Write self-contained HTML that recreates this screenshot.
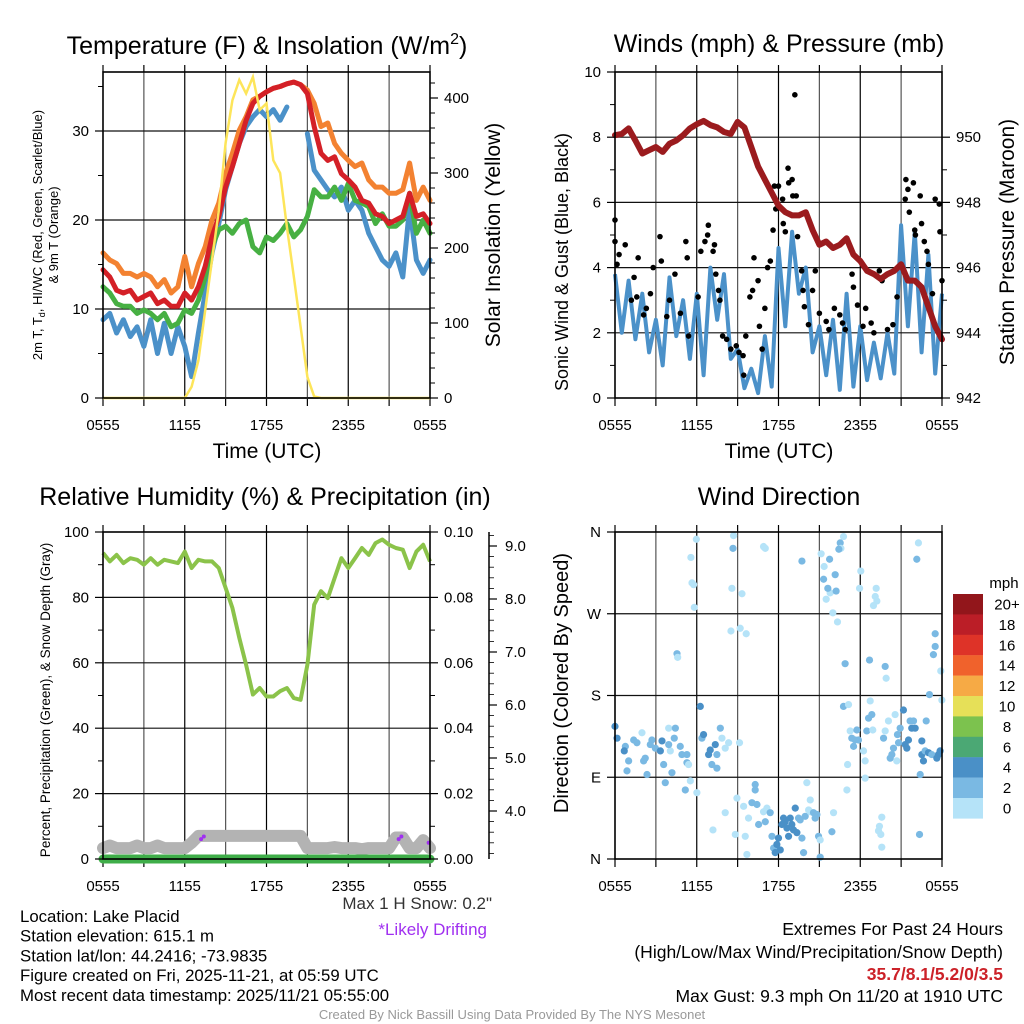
<!DOCTYPE html>
<html><head><meta charset="utf-8"><style>
html,body{margin:0;padding:0;background:#fff;}
svg{display:block;font-family:"Liberation Sans",sans-serif;}
</style></head><body>
<svg id="chart" width="1024" height="1024" viewBox="0 0 1024 1024" xmlns="http://www.w3.org/2000/svg">
<rect width="1024" height="1024" fill="#fff"/>
</svg>
<script>
// ---------- DATA ----------
const hoursHalf = [0,0.5,1,1.5,2,2.5,3,3.5,4,4.5,5,5.5,6,6.5,7,7.5,8,8.5,9,9.5,10,10.5,11,11.5,12,12.5,13,13.5,14,14.5,15,15.5,16,16.5,17,17.5,18,18.5,19,19.5,20,20.5,21,21.5,22,22.5,23,23.5,24];
const xTickLabels = ["0555","1155","1755","2355","0555"];
const temp9m = [16.3,15.5,15.1,14,14,13.6,14,13.6,12.5,13.3,11.8,12.5,15.9,12.5,15.1,17,20,21.9,25.2,27.5,30.1,31.6,33.5,33.9,34.4,34.8,35,35.3,35.5,35.2,34.6,33.1,30.5,30.9,28.6,27.5,26.7,26,26.4,24.5,23.7,23.7,23,23,23.4,26.4,22.2,23.7,22.2];
const temp2m = [14.4,13.6,12.1,11.8,12.1,11,11.4,11.8,10.6,11,10.3,10.3,11.8,11,12.5,14.8,18.1,20.4,23.7,26,28.6,31.2,33.1,33.9,34.4,34.8,35,35.3,35.5,35.2,34.2,30.5,27.5,26.7,27.1,25.2,24.5,23.7,22.2,21.9,20.7,20.4,19.6,20,20.4,23,20.4,20.7,19.6];
const dewpoint = [12.5,11.8,10.6,10.3,10.3,9.5,9.9,9.5,8.8,9.5,8,8.4,9.9,9.5,11,13.6,17,18.9,19.3,18.5,19.6,20,17,16.3,18.1,17.7,18.5,19.6,18.1,18.9,20.4,23.4,22.6,22.6,23.7,22.2,24.1,22.2,21.9,21.5,19.6,20.7,19.3,19.3,20,23,18.5,20,18.5];
const windChill = [8.8,9.5,7.3,8.8,6.9,8,5.8,8.8,5,8.4,5,8,5.8,2.4,7.3,11.8,16.3,19.6,23.4,26,28.6,30.5,31.6,32.4,31.6,32.4,31.2,32.7,null,null,29.7,25.6,24.5,23.4,22.6,23.7,21.1,22.2,21.1,18.5,17,15.5,14.8,16.3,13.6,21.5,15.5,14,15.5];
const solar = [0,0,0,0,0,0,0,0,0,0,0,0,0,15,50,117,184,250,340,397,424,406,428,384,393,317,300,228,162,95,28,2,0,0,0,0,0,0,0,0,0,0,0,0,0,0,0,0,0];
const pressure = [950.06,950.1,950.27,949.9,949.5,949.6,949.7,949.55,949.8,949.9,950.06,950.27,950.4,950.5,950.37,950.3,950.16,950.1,950.47,950.3,949.7,949.1,948.7,948.3,947.9,947.7,947.6,947.6,947.7,947.15,946.7,946.8,946.6,946.7,946.9,946.4,946.2,945.9,945.8,945.65,945.8,945.9,946.1,945.6,945.6,945.4,944.8,944.2,943.8];
const windSpeed = [3.8,2,3.6,1.8,3.2,1.4,2.4,1,3.7,1.9,3,1.2,3.2,0.7,4,2.4,3.8,1.2,1.5,0.3,0.9,0.15,1.9,0.35,4.6,2.2,5.1,3.2,4,1.4,2.2,0.7,2.4,0.25,3.2,0.35,2.2,0.55,1.7,0.6,2,0.75,5.3,2.2,5.1,1.4,4.4,0.75,3.2];
const gustHours = [0,0,0.3,0.15,0.75,1.7,1.4,1.6,1.2,2.3,2.1,2.6,2.8,3.3,3.4,4,3.8,4.4,4.8,5.2,5.3,5.4,6.1,6.3,6.6,6.8,6.85,7.2,7.3,7.4,7.6,7.7,7.9,8.2,8.5,8.9,9.1,9.4,9.45,9.6,9.9,10.1,10.2,10.5,10.6,10.8,11,11.2,11.4,11.6,11.7,11.8,12,12.3,12.35,12.5,12.7,12.75,13,13.05,13.2,13.3,13.4,13.7,13.8,13.9,14.2,14.5,14.7,15,15.5,15.7,16.1,16.5,16.7,16.9,17.4,17.5,17.8,18.2,18.4,18.8,19,19.4,19.6,20,20.4,20.7,21.3,21.35,21.5,21.6,21.9,22,22.05,22.4,22.5,22.7,22.9,23,23.5,23.8,23.85,23.3,24];
const gustSpeed = [5.46,4.8,4.4,4.1,4.7,4.3,3.7,3.1,3,2.75,2.55,3.2,4,4.95,4.2,3,2.5,3.8,2.6,4.8,4.3,1.9,3.1,4.5,4.8,5,5.3,4.5,4.7,3.8,3.3,3,1.9,1.8,1.5,1.6,1.4,1.3,0.7,1.9,3.1,3.3,4.3,3.6,2.2,1.5,2.75,4,4.2,5.15,6.5,5.8,6.5,6.1,5.35,5.1,7.05,6.6,6.7,6.2,9.3,6.2,4.95,3.9,3.3,2.8,2.25,3.3,3.9,2.6,2.35,2.1,2.75,2.55,2.3,2.1,3.8,3.4,2.85,2.2,2.75,2.3,2,3.9,3.6,2.1,2.25,3.1,6.1,6.7,6.4,5.7,6.6,5.15,5,6.2,5.35,4.8,4.5,4.1,6.1,5.95,5.1,3.2,3.6];
const rh = [93.6,91,93,90.5,92,91.5,90,92,90,91.5,91,90.5,94,89,91.5,91,91,89,82.9,76.8,67.6,59.4,50.3,52.3,49.7,49.7,51.3,52.3,49.2,48.7,59.4,77.8,81.9,79.8,85.9,92,89,92,95.1,93,96.6,97.7,96.1,95.1,94.6,89,94,96.1,91];
const snowDepth = [3.3,3.35,3.3,3.3,3.3,3.35,3.3,3.3,3.35,3.3,3.3,3.3,3.3,3.4,3.53,3.53,3.53,3.53,3.53,3.53,3.53,3.53,3.53,3.53,3.53,3.53,3.53,3.53,3.53,3.53,3.3,3.3,3.3,3.3,3.32,3.3,3.3,3.3,3.28,3.3,3.3,3.3,3.3,3.5,3.5,3.3,3.3,3.45,3.3];
const precip = [0,0,0,0,0,0,0,0,0,0,0,0,0,0,0,0,0,0,0,0,0,0,0,0,0,0,0,0,0,0,0,0,0,0,0,0,0,0,0,0,0,0,0,0,0,0,0,0,0];
const driftHours = [7.2,7.4,21.7,21.9,23.9];
const driftDepth = [3.47,3.52,3.47,3.52,3.4];
const dirHours = [0,0.15,0.76,0.68,1.0,0.88,1.37,1.61,1.98,2.1,2.22,2.35,2.59,2.71,2.96,3.33,3.45,3.57,3.69,3.94,4.06,3.94,4.18,4.43,4.35,4.79,4.91,5.16,5.28,5.28,5.4,5.53,6.01,6.26,6.38,6.5,6.87,6.99,7.11,7.36,7.48,7.48,7.73,7.85,8.09,8.34,9.14,8.95,8.83,9.44,9.56,9.68,9.8,10.05,10.29,10.29,10.42,10.54,10.9,11.03,11.15,11.39,11.52,11.64,11.76,11.88,12.0,12.13,12.25,12.37,12.49,12.62,12.74,12.86,12.98,13.1,13.23,13.35,13.47,13.59,13.72,13.84,13.96,14.08,14.21,14.33,14.33,14.57,14.69,14.82,14.94,15.06,15.06,15.92,16.04,17.02,17.07,16.77,17.14,17.26,17.38,17.51,17.63,17.75,17.87,18.24,18.36,18.36,18.48,18.61,18.73,18.85,18.92,19.71,19.83,20.07,20.2,20.32,20.44,20.56,20.68,20.73,20.81,20.93,21.17,21.3,21.42,21.54,21.66,21.78,21.91,22.03,22.4,22.52,22.52,22.64,22.76,22.84,23.01,23.25,23.62,23.74,23.86,23.08,23.91,23.99,23.37,23.5,23.5,22.15,22.27,19.83,19.9,18.68,16.89,16.33,15.99,15.5,15.79,15.62,15.31,16.16,15.75,15.35,15.13,13.72,16.53,16.58,16.43,16.77,18.04,17.95,19.17,19.1,19.22,18.97,16.23,10.9,11.03,8.7,8.66,8.58,9.32,8.51,9.19,9.63,5.97,5.57,5.65,5.77,5.82,4.55,4.6,7.19,8.09,19.58,19.41,19.34,19.51,19.58,22.35];
const dirDeg = [146,133,124,119,108,97,131,128,139,108,111,93,126,131,122,119,130,104,84,144,119,126,95,144,133,124,115,76,115,106,104,86,73,168,133,137,115,120,104,126,100,115,144,133,122,128,128,67,27,58,25,5,45,62,82,76,60,38,52,41,56,51,25,12,7,16,23,10,38,45,41,34,25,45,38,32,56,29,45,43,23,7,47,84,54,65,52,51,45,49,25,21,2,30,51,76,104,168,170,141,133,124,131,142,131,119,108,89,141,155,174,159,142,133,141,152,111,115,122,159,108,137,128,144,164,126,122,131,152,144,152,144,93,130,115,108,119,152,117,115,111,115,119,181,207,175,225,234,248,330,348,212,199,219,215,261,271,286,293,298,308,313,330,322,336,328,348,342,341,355,317,298,298,289,284,279,295,344,342,356,342,298,292,251,254,248,352,332,304,302,277,226,222,32,51,46,36,31,27,13,27];
const dirSpeed = [5,5,3,5,3,3,3,3,1,3,3,3,3,3,3,5,5,3,3,1,1,3,3,3,3,3,3,3,3,3,1,1,1,5,3,5,5,5,3,5,3,3,3,1,1,1,1,1,1,1,1,1,1,3,3,3,3,3,1,3,1,3,3,3,5,5,5,5,5,5,5,5,5,5,5,5,5,5,3,3,3,3,3,1,1,1,1,3,3,3,3,1,3,3,1,1,1,3,1,1,3,3,3,3,3,1,1,1,3,3,1,3,1,3,1,1,3,3,3,1,1,3,3,3,5,5,5,5,3,5,3,5,3,5,5,5,3,3,5,3,5,5,5,3,1,1,3,3,3,3,1,3,1,3,3,1,1,1,1,3,3,3,3,1,1,3,3,1,3,1,1,1,1,1,1,1,3,1,1,1,3,1,1,1,1,1,1,1,1,1,1,3,1,1,1,1,1,1,1,1,3,1,3,1,1,3,3,3];
const speedBins = ["20+","18","16","14","12","10","8","6","4","2","0"];
const speedColors = ["#92161b","#bb1e27","#de3328","#f0622c","#f6aa45","#e6e058","#7cc24e","#4ba874","#4a90c7","#7ab9e3","#b5e3f8"];

// ---------- HELPERS ----------
const svg = document.getElementById('chart');
const NS = 'http://www.w3.org/2000/svg';
function mk(tag, attrs, parent){ const e=document.createElementNS(NS,tag); for(const k in attrs) e.setAttribute(k,attrs[k]); (parent||svg).appendChild(e); return e; }
function txt(s, x, y, size, opts, parent){ opts=opts||{}; const e=mk('text',{x:x,y:y,'font-size':size,fill:opts.fill||'#000','text-anchor':opts.anchor||'middle'},parent); if(opts.weight) e.setAttribute('font-weight',opts.weight); if(opts.rot) e.setAttribute('transform','rotate(-90 '+x+' '+y+')'); e.textContent=s; return e; }
function pathFrom(xs, ys, fx, fy){ let d='', pen=false; for(let i=0;i<xs.length;i++){ if(ys[i]===null){pen=false;continue;} d+=(pen?'L':'M')+fx(xs[i]).toFixed(1)+' '+fy(ys[i]).toFixed(1); pen=true;} return d; }

function panelFrame(g, x0, x1, y0, y1, hLines){
  for(let h=3; h<24; h+=3){ const x = x0+(x1-x0)*h/24; const l=mk('line',{x1:x,y1:y0,x2:x,y2:y1,stroke:(h%6===0?'#000':'#555'),'stroke-width':1.2},g);   }
  hLines.forEach(y=>{ const l=mk('line',{x1:x0,y1:y,x2:x1,y2:y,stroke:'#111','stroke-width':1.2},g);   });
  for(let h=0; h<=24; h+=3){ const x=x0+(x1-x0)*h/24; mk('line',{x1:x,y1:y1,x2:x,y2:y1+8,stroke:'#000','stroke-width':1.2},g); mk('line',{x1:x,y1:y0,x2:x,y2:y0-7,stroke:'#000','stroke-width':1.2},g); }
  xTickLabels.forEach((s,i)=>{ const t=txt(s, x0+(x1-x0)*i/4, y1+32, 15, {}, g);   });
}
function border(g,x0,x1,y0,y1){ const r=mk('rect',{x:x0,y:y0,width:x1-x0,height:y1-y0,fill:'none',stroke:'#000','stroke-width':1.6},g);   }
function yTicks(g, x, vals, fy, labels, dir, minor){
  vals.forEach((v,i)=>{ const y=fy(v); mk('line',{x1:x,y1:y,x2:x+dir*8,y2:y,stroke:'#000','stroke-width':1.2},g); if(labels){ const t=txt(labels[i], x+dir*14, y+5, 15, {anchor: dir<0?'end':'start'}, g);   } });
  (minor||[]).forEach(v=>{ const y=fy(v); mk('line',{x1:x,y1:y,x2:x+dir*5,y2:y,stroke:'#000','stroke-width':1},g); });
}

// ---------- PANEL 1: Temperature ----------
(function(){
  const g=mk('g',{});  
  const x0=103,x1=430,y0=72,y1=398;
  const fx=h=>x0+(x1-x0)*h/24, fy=v=>398-v*8.9, fyR=w=>398-w*0.75;
  panelFrame(g,x0,x1,y0,y1,[fy(10),fy(20),fy(30)]);
  mk('line',{x1:x0,y1:fy(0),x2:x1,y2:fy(0),stroke:'#999','stroke-width':2},g);
  const series=[[windChill,'#4b91c9','wind-chill-line'],[dewpoint,'#47b043','dewpoint-line'],[temp9m,'#f38231','temp-9m-line'],[temp2m,'#d42027','temp-2m-line']];
  series.forEach(s=>{ const p=mk('path',{d:pathFrom(hoursHalf,s[0],fx,fy),fill:'none',stroke:s[1],'stroke-width':5,'stroke-linejoin':'round','stroke-linecap':'round'},g);   });
  const ps=mk('path',{d:pathFrom(hoursHalf,solar,fx,fyR),fill:'none',stroke:'#fde55a','stroke-width':2.5},g);
   
  border(g,x0,x1,y0,y1);
  yTicks(g,x0,[0,10,20,30],fy,['0','10','20','30'],-1,[5,15,25,35]);
  yTicks(g,x1,[0,100,200,300,400],fyR,['0','100','200','300','400'],1,[20,40,60,80,120,140,160,180,220,240,260,280,320,340,360,380,420]);
  const t=mk('text',{x:267,y:54,'font-size':25,'text-anchor':'middle'},g); t.innerHTML='Temperature (F) &amp; Insolation (W/m<tspan font-size="16" dy="-10">2</tspan><tspan dy="10">)</tspan>';
   
  const xl=txt('Time (UTC)',267,458,21,{},g);  
  const yl=mk('text',{x:42,y:235,'font-size':13,'text-anchor':'middle',transform:'rotate(-90 42 235)'},g); yl.innerHTML='2m T, T<tspan font-size="9" dy="3">d</tspan><tspan dy="-3">, HI/WC (Red, Green, Scarlet/Blue)</tspan>';
   
  const yl2=txt('& 9m T (Orange)',58,235,13,{rot:true},g);  
  const yr=txt('Solar Insolation (Yellow)',500,235,21,{rot:true},g);  
})();

// ---------- PANEL 2: Winds & Pressure ----------
(function(){
  const g=mk('g',{});  
  const x0=615,x1=942,y0=72,y1=398;
  const fx=h=>x0+(x1-x0)*h/24, fy=v=>398-v*32.6, fyP=p=>398-(p-942)*32.6;
  panelFrame(g,x0,x1,y0,y1,[fy(2),fy(4),fy(6),fy(8)]);
  const pw=mk('path',{d:pathFrom(hoursHalf,windSpeed,fx,fy),fill:'none',stroke:'#4b91c9','stroke-width':4,'stroke-linejoin':'round'},g);
   
  gustHours.forEach((h,i)=>{ const c=mk('circle',{cx:fx(h),cy:fy(gustSpeed[i]),r:2.8,fill:'#000'},g);   });
  const pp=mk('path',{d:pathFrom(hoursHalf,pressure,fx,fyP),fill:'none',stroke:'#9b1b1e','stroke-width':6,'stroke-linejoin':'round','stroke-linecap':'round'},g);
   
  border(g,x0,x1,y0,y1);
  yTicks(g,x0,[0,2,4,6,8,10],fy,['0','2','4','6','8','10'],-1,[1,3,5,7,9]);
  yTicks(g,x1,[942,944,946,948,950],fyP,['942','944','946','948','950'],1,[943,945,947,949]);
  const t=txt('Winds (mph) & Pressure (mb)',779,52,25,{},g);  
  const xl=txt('Time (UTC)',779,458,21,{},g);  
  const yl=txt('Sonic Wind & Gust (Blue, Black)',568,262,18,{rot:true},g);  
  const yr=txt('Station Pressure (Maroon)',1014,242,21,{rot:true},g);  
})();

// ---------- PANEL 3: RH & Precip ----------
(function(){
  const g=mk('g',{});  
  const x0=103,x1=430,y0=532,y1=859;
  const fx=h=>x0+(x1-x0)*h/24, fy=v=>859-v*3.27, fyP=p=>859-p*3270, fyS=d=>546+(9-d)*53;
  panelFrame(g,x0,x1,y0,y1,[fy(20),fy(40),fy(60),fy(80)]);
  const ps=mk('path',{d:pathFrom(hoursHalf,snowDepth,fx,fyS),fill:'none',stroke:'#b3b3b3','stroke-width':12,'stroke-linejoin':'round','stroke-linecap':'round'},g);
   
  driftHours.forEach((h,i)=>{ const c=mk('circle',{cx:fx(h),cy:fyS(driftDepth[i]),r:2,fill:'#a030f0'},g);   });
  const pp=mk('path',{d:pathFrom(hoursHalf,precip,fx,fyP),fill:'none',stroke:'#3fae49','stroke-width':9,'stroke-linecap':'round'},g);
   
  const pr=mk('path',{d:pathFrom(hoursHalf,rh,fx,fy),fill:'none',stroke:'#8bc34a','stroke-width':4,'stroke-linejoin':'round'},g);
   
  border(g,x0,x1,y0,y1);
  yTicks(g,x0,[0,20,40,60,80,100],fy,['0','20','40','60','80','100'],-1,[10,30,50,70,90]);
  yTicks(g,x1,[0,0.02,0.04,0.06,0.08,0.10],fyP,['0.00','0.02','0.04','0.06','0.08','0.10'],1,[0.01,0.03,0.05,0.07,0.09]);
  const ax=mk('line',{x1:489,y1:532,x2:489,y2:859,stroke:'#000','stroke-width':1.5},g);  
  const sv=[4,5,6,7,8,9], sm=[];
  for(let d=3.2; d<9.25; d+=0.2){ sm.push(d); }
  sv.forEach(d=>{ const y=fyS(d); mk('line',{x1:489,y1:y,x2:497,y2:y,stroke:'#000','stroke-width':1.2},g); const t=txt(d.toFixed(1),505,y+5,15,{anchor:'start'},g);   });
  sm.forEach(d=>{ const y=fyS(d); mk('line',{x1:489,y1:y,x2:494,y2:y,stroke:'#000','stroke-width':0.8},g); });
  const t=txt('Relative Humidity (%) & Precipitation (in)',265,505,25,{},g);  
  const yl=txt('Percent, Precipitation (Green), & Snow Depth (Gray)',50,700,13.5,{rot:true},g);  
  const m=txt('Max 1 H Snow: 0.2"',492,909,17,{anchor:'end',fill:'#333'},g);  
  const d=txt('*Likely Drifting',487,935,17,{anchor:'end',fill:'#a030f0'},g);  
})();

// ---------- PANEL 4: Wind Direction ----------
(function(){
  const g=mk('g',{});  
  const x0=615,x1=942,y0=532,y1=859;
  const fx=h=>x0+(x1-x0)*h/24, fy=d=>859-d*(327/360);
  panelFrame(g,x0,x1,y0,y1,[fy(90),fy(180),fy(270)]);
  function colorFor(s){ const idx=Math.min(10,Math.floor(s/2)); return speedColors[10-idx]; }
  dirHours.forEach((h,i)=>{ const c=mk('circle',{cx:fx(h),cy:fy(dirDeg[i]),r:3.6,fill:colorFor(dirSpeed[i])},g);   });
  border(g,x0,x1,y0,y1);
  yTicks(g,x0,[0,90,180,270,360],fy,['N','E','S','W','N'],-1,[]);
  const t=txt('Wind Direction',779,505,25,{},g);  
  const yl=txt('Direction (Colored By Speed)',568,683,20,{rot:true},g);  
  const lg=mk('g',{},g);  
  const mt=txt('mph',1004,588,15,{},lg);  
  speedBins.forEach((s,i)=>{ const y=594+i*20.4; const r=mk('rect',{x:953,y:y,width:30,height:20.6,fill:speedColors[i]},lg);   const tl=txt(s,1007,y+15.5,15,{},lg);   });
})();

// ---------- Footer text ----------
const info=["Location: Lake Placid","Station elevation: 615.1 m","Station lat/lon: 44.2416; -73.9835","Figure created on Fri, 2025-11-21, at 05:59 UTC","Most recent data timestamp: 2025/11/21 05:55:00"];
info.forEach((s,i)=>{ const t=txt(s,20,922+i*19.7,16.8,{anchor:'start'});   });
const ex1=txt('Extremes For Past 24 Hours',1003,935,17.5,{anchor:'end'});  
const ex2=txt('(High/Low/Max Wind/Precipitation/Snow Depth)',1003,958,17.5,{anchor:'end'});  
const ex3=txt('35.7/8.1/5.2/0/3.5',1003,980,17.5,{anchor:'end',fill:'#cc2229',weight:'bold'});  
const ex4=txt('Max Gust: 9.3 mph On 11/20 at 1910 UTC',1003,1002,17.5,{anchor:'end'});  
const cr=txt('Created By Nick Bassill Using Data Provided By The NYS Mesonet',512,1019,13,{fill:'#999'});  
</script>
</body></html>
